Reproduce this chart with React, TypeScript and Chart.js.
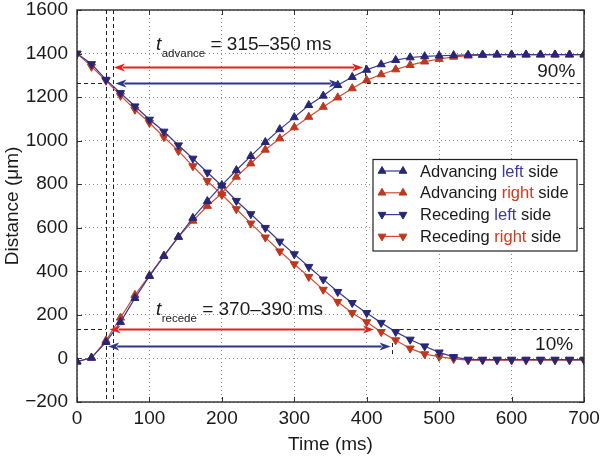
import { useEffect, useRef } from 'react';
import { Chart, registerables } from 'chart.js';

Chart.register(...registerables);

// ---------- data ----------
const timeMs = [0, 20, 40, 60, 80, 100, 120, 140, 160, 180, 200, 220, 240, 260, 280, 300, 320, 340, 360, 380, 400, 420, 440, 460, 480, 500, 520, 540, 560, 580, 600, 620, 640, 660, 680, 700];

const advancingLeft = [-15, 3, 75, 167, 277, 378, 470, 558, 645, 722, 796, 864, 929, 993, 1052, 1107, 1163, 1206, 1255, 1292, 1325, 1350, 1370, 1382, 1387, 1390, 1392, 1394, 1395, 1395, 1395, 1395, 1395, 1395, 1395, 1395];
const advancingRight = [-15, 3, 82, 187, 291, 381, 472, 558, 632, 700, 758, 834, 895, 958, 1010, 1061, 1109, 1155, 1198, 1240, 1278, 1304, 1327, 1347, 1363, 1375, 1385, 1390, 1393, 1395, 1395, 1395, 1395, 1395, 1395, 1395];
const recedingLeft = [1400, 1352, 1280, 1219, 1158, 1097, 1042, 979, 918, 854, 793, 724, 663, 600, 537, 479, 421, 363, 306, 255, 209, 164, 122, 87, 56, 28, 7, -5, -5, -5, -5, -5, -5, -5, -5, -5];
const recedingRight = [1400, 1340, 1276, 1207, 1143, 1082, 1017, 953, 883, 815, 752, 686, 620, 556, 492, 433, 375, 316, 260, 209, 167, 122, 84, 46, 20, 8, -2, -8, -8, -8, -8, -8, -8, -8, -8, -8];

const seriesNames = ['Advancing left side', 'Advancing right side', 'Receding left side', 'Receding right side'];
const xTickValues = [0, 100, 200, 300, 400, 500, 600, 700];
const yTickValues = [-200, 0, 200, 400, 600, 800, 1000, 1200, 1400, 1600];

// annotation values (data units)
const thresholdTimes = [40, 50];
const level90 = 1263;
const level10 = 133;
const dashedLevels = [
  { y: level90, from: 0, to: 40 },
  { y: level90, from: 400, to: 700 },
  { y: level10, from: 0, to: 40 },
  { y: level10, from: 436, to: 700 },
];
const dashedMarks = [
  { x: 397, from: 1263, to: 1360 },
  { x: 435, from: 20, to: 92 },
];
const arrowsRed = [
  { y: 1340, from: 51, to: 395 },
  { y: level10, from: 45, to: 410 },
];
const arrowsBlue = [
  { y: level90, from: 53, to: 363 },
  { y: 56, from: 43, to: 433 },
];
const durationLabels = [
  { sub: 'advance', text: ' = 315\u2013350 ms', x: 109, y: 1415 },
  { sub: 'recede', text: ' = 370\u2013390 ms', x: 109, y: 199 },
];
const percentLabels = [
  { text: '90%', x: 688, y: 1291 },
  { text: '10%', x: 685, y: 38 },
];

// ---------- styles ----------
const FONT = "'Liberation Sans', Arial, Helvetica, sans-serif";
const BLUE_LINE = '#3a3a92';
const BLUE_MARK = '#272778';
const RED_LINE = '#d24a32';
const RED_MARK = '#bf371d';
const RED_ARROW = '#e2231c';
const BLUE_ARROW = '#2c368c';
const WORD_BLUE = '#3b3b9e';
const WORD_RED = '#d13a1f';

function tri(ctx: CanvasRenderingContext2D, x: number, y: number, r: number, down: boolean) {
  let rad = down ? Math.PI : 0;
  ctx.beginPath();
  for (let i = 0; i < 3; i++) {
    const px = x + Math.sin(rad) * r;
    const py = y - Math.cos(rad) * r;
    if (i === 0) ctx.moveTo(px, py); else ctx.lineTo(px, py);
    rad += (2 * Math.PI) / 3;
  }
  ctx.closePath();
}

function arrow(ctx: CanvasRenderingContext2D, x1: number, x2: number, y: number, color: string) {
  const hl = 11, hw = 4;
  ctx.save();
  ctx.strokeStyle = color;
  ctx.fillStyle = color;
  ctx.lineWidth = 1.8;
  ctx.setLineDash([]);
  ctx.beginPath();
  ctx.moveTo(x1 + hl - 2, y);
  ctx.lineTo(x2 - hl + 2, y);
  ctx.stroke();
  ctx.beginPath();
  ctx.moveTo(x1, y);
  ctx.lineTo(x1 + hl, y - hw);
  ctx.lineTo(x1 + hl - 3, y);
  ctx.lineTo(x1 + hl, y + hw);
  ctx.closePath();
  ctx.fill();
  ctx.beginPath();
  ctx.moveTo(x2, y);
  ctx.lineTo(x2 - hl, y - hw);
  ctx.lineTo(x2 - hl + 3, y);
  ctx.lineTo(x2 - hl, y + hw);
  ctx.closePath();
  ctx.fill();
  ctx.restore();
}

const annotationPlugin = {
  id: 'annotationPlugin',
  beforeDatasetsDraw(chart: any) {
    const { ctx, chartArea: a, scales } = chart;
    const xs = scales.x, ys = scales.y;
    ctx.save();
    ctx.strokeStyle = '#222';
    ctx.lineWidth = 1;
    ctx.setLineDash([4, 3]);
    for (const t of thresholdTimes) {
      const px = Math.round(xs.getPixelForValue(t)) + 0.5;
      ctx.beginPath();
      ctx.moveTo(px, a.top);
      ctx.lineTo(px, a.bottom);
      ctx.stroke();
    }
    for (const s of dashedLevels) {
      const py = Math.round(ys.getPixelForValue(s.y)) + 0.5;
      ctx.beginPath();
      ctx.moveTo(xs.getPixelForValue(s.from), py);
      ctx.lineTo(xs.getPixelForValue(s.to), py);
      ctx.stroke();
    }
    for (const m of dashedMarks) {
      const px = Math.round(xs.getPixelForValue(m.x)) + 0.5;
      ctx.beginPath();
      ctx.moveTo(px, ys.getPixelForValue(m.from));
      ctx.lineTo(px, ys.getPixelForValue(m.to));
      ctx.stroke();
    }
    ctx.restore();
  },
  afterDatasetsDraw(chart: any) {
    const { ctx, chartArea: a, scales } = chart;
    const xs = scales.x, ys = scales.y;
    ctx.save();
    for (const ar of arrowsRed) arrow(ctx, xs.getPixelForValue(ar.from), xs.getPixelForValue(ar.to), Math.round(ys.getPixelForValue(ar.y)) + 0.5, RED_ARROW);
    for (const ar of arrowsBlue) arrow(ctx, xs.getPixelForValue(ar.from), xs.getPixelForValue(ar.to), Math.round(ys.getPixelForValue(ar.y)) + 0.5, BLUE_ARROW);

    // duration labels
    ctx.fillStyle = '#1a1a1a';
    ctx.textBaseline = 'alphabetic';
    ctx.textAlign = 'left';
    for (const l of durationLabels) {
      let px = xs.getPixelForValue(l.x);
      const py = ys.getPixelForValue(l.y);
      ctx.font = `italic 19px ${FONT}`;
      ctx.fillText('t', px, py);
      px += ctx.measureText('t').width + 0.5;
      ctx.font = `11.5px ${FONT}`;
      ctx.fillText(l.sub, px, py + 7);
      px += ctx.measureText(l.sub).width;
      ctx.font = `19px ${FONT}`;
      ctx.fillText(l.text, px, py);
    }
    ctx.textAlign = 'right';
    ctx.font = `19px ${FONT}`;
    for (const l of percentLabels) {
      ctx.fillText(l.text, xs.getPixelForValue(l.x), ys.getPixelForValue(l.y));
    }

    // legend
    const bx = 373, by = 159.5, bw = 204, bh = 91.5;
    ctx.fillStyle = '#ffffff';
    ctx.fillRect(bx, by, bw, bh);
    ctx.strokeStyle = '#222';
    ctx.lineWidth = 1.2;
    ctx.setLineDash([]);
    ctx.strokeRect(bx, by, bw, bh);
    const rows = seriesNames.map((n, i) => {
      const parts = n.split(' ');
      return {
        first: parts[0] + ' ',
        word: parts[1],
        last: ' ' + parts.slice(2).join(' '),
        blue: i % 2 === 0,
        down: i >= 2,
      };
    });
    ctx.font = `16.5px ${FONT}`;
    ctx.textAlign = 'left';
    ctx.textBaseline = 'middle';
    rows.forEach((r, i) => {
      const cy = by + 11.5 + i * 21.8;
      const lineC = r.blue ? BLUE_LINE : RED_LINE;
      const markC = r.blue ? BLUE_MARK : RED_MARK;
      ctx.strokeStyle = lineC;
      ctx.lineWidth = 1.2;
      ctx.beginPath();
      ctx.moveTo(382, cy);
      ctx.lineTo(403, cy);
      ctx.stroke();
      for (const mx of [382, 403]) {
        tri(ctx, mx, cy, 4.5, r.down);
        ctx.fillStyle = markC;
        ctx.fill();
        ctx.strokeStyle = markC;
        ctx.lineWidth = 1;
        ctx.stroke();
      }
      let tx = 420;
      ctx.fillStyle = '#1a1a1a';
      ctx.fillText(r.first, tx, cy + 1);
      tx += ctx.measureText(r.first).width;
      ctx.fillStyle = r.blue ? WORD_BLUE : WORD_RED;
      ctx.fillText(r.word, tx, cy + 1);
      tx += ctx.measureText(r.word).width;
      ctx.fillStyle = '#1a1a1a';
      ctx.fillText(r.last, tx, cy + 1);
    });

    // inner ticks
    ctx.strokeStyle = '#333';
    ctx.lineWidth = 1;
    for (const v of xTickValues) {
      const px = Math.round(xs.getPixelForValue(v)) + 0.5;
      ctx.beginPath();
      ctx.moveTo(px, a.bottom); ctx.lineTo(px, a.bottom - 5);
      ctx.moveTo(px, a.top); ctx.lineTo(px, a.top + 5);
      ctx.stroke();
    }
    for (const v of yTickValues) {
      const py = Math.round(ys.getPixelForValue(v)) + 0.5;
      ctx.beginPath();
      ctx.moveTo(a.left, py); ctx.lineTo(a.left + 5, py);
      ctx.moveTo(a.right, py); ctx.lineTo(a.right - 5, py);
      ctx.stroke();
    }
    // frame
    ctx.strokeStyle = '#2a2a2a';
    ctx.lineWidth = 1.4;
    ctx.strokeRect(a.left, a.top, a.right - a.left, a.bottom - a.top);
    ctx.restore();
  },
};

export default function App() {
  const ref = useRef<HTMLCanvasElement | null>(null);

  useEffect(() => {
    if (!ref.current) return;
    const mk = (vals: number[]) => timeMs.map((t, i) => ({ x: t, y: vals[i] }));
    const ds = (label: string, vals: number[], blue: boolean, down: boolean) => ({
      label,
      data: mk(vals),
      borderColor: blue ? BLUE_LINE : RED_LINE,
      borderWidth: 1.2,
      pointStyle: 'triangle',
      rotation: down ? 180 : 0,
      pointRadius: 4.7,
      pointBackgroundColor: blue ? BLUE_MARK : RED_MARK,
      pointBorderColor: blue ? BLUE_MARK : RED_MARK,
      pointBorderWidth: 1,
      fill: false,
      tension: 0,
    });
    const chart = new Chart(ref.current, {
      type: 'line',
      data: {
        datasets: [
          ds(seriesNames[0], advancingLeft, true, false),
          ds(seriesNames[1], advancingRight, false, false),
          ds(seriesNames[2], recedingLeft, true, true),
          ds(seriesNames[3], recedingRight, false, true),
        ],
      },
      options: {
        animation: false,
        responsive: false,
        layout: { padding: { top: 10, right: 16, left: 0, bottom: 0 } },
        plugins: { legend: { display: false }, tooltip: { enabled: false } },
        scales: {
          x: {
            type: 'linear',
            min: 0,
            max: 700,
            afterFit: (s: any) => { s.height = 56; s.paddingLeft = 0; s.paddingRight = 0; },
            afterBuildTicks: (s: any) => { s.ticks = xTickValues.map((v) => ({ value: v })); },
            ticks: { color: '#1a1a1a', font: { family: FONT, size: 19 }, padding: 5, maxRotation: 0 },
            grid: { color: '#8a8a8a', lineWidth: 1, drawTicks: false },
            border: { display: false, dash: [1, 3] },
            title: { display: true, text: 'Time (ms)', color: '#1a1a1a', font: { family: FONT, size: 19 }, padding: { top: 0, bottom: 2 } },
          },
          y: {
            type: 'linear',
            min: -200,
            max: 1600,
            afterFit: (s: any) => { s.width = 77; s.paddingTop = 0; s.paddingBottom = 0; },
            afterBuildTicks: (s: any) => { s.ticks = yTickValues.map((v) => ({ value: v })); },
            ticks: {
              color: '#1a1a1a',
              font: { family: FONT, size: 19 },
              padding: 9,
              callback: (v: any) => String(v).replace('-', '\u2212'),
            },
            grid: { color: '#8a8a8a', lineWidth: 1, drawTicks: false },
            border: { display: false, dash: [1, 3] },
            title: { display: true, text: 'Distance (\u03bcm)', color: '#1a1a1a', font: { family: FONT, size: 19 }, padding: { top: 1, bottom: 0 } },
          },
        },
      },
      plugins: [annotationPlugin],
    });
    return () => chart.destroy();
  }, []);

  return (
    <div style={{ position: 'absolute', left: 0, top: 0, width: 600, height: 458, background: '#fff' }}>
      <canvas ref={ref} width={600} height={458} style={{ display: 'block' }} />
    </div>
  );
}
